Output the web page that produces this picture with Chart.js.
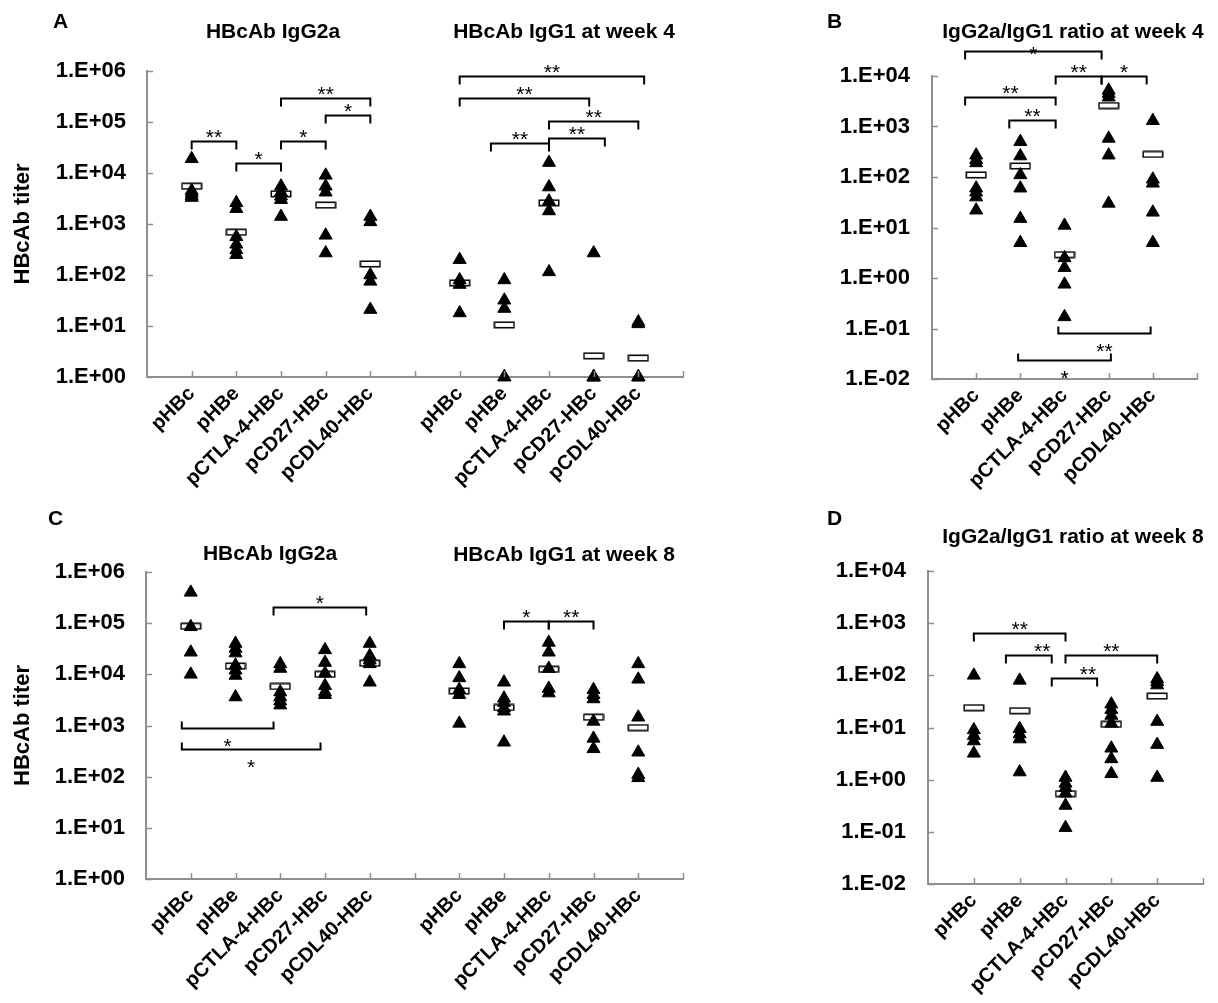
<!DOCTYPE html>
<html lang="en">
<head>
<meta charset="UTF-8" />
<title>HBcAb titers</title>
<script src="https://cdn.jsdelivr.net/npm/chart.js"></script>
<style>
  html, body { margin: 0; background: #fff; }
  body { width: 1218px; height: 1003px; position: relative; overflow: hidden;
         font-family: 'Liberation Sans', Arial, sans-serif; color: #000; }
  canvas { position: absolute; }
  .t { position: absolute; z-index: 2; font-weight: bold; font-size: 21px; line-height: 1;
       white-space: pre; transform: translate(-50%, -50%); }
  .p { position: absolute; z-index: 2; font-weight: bold; font-size: 21px; line-height: 1;
       transform: translate(0, -50%); }
</style>
</head>
<body>
<div class="p" style="left:53px;top:20px">A</div>
<div class="t" style="left:273px;top:30px">HBcAb IgG2a</div>
<div class="t" style="left:564px;top:30px">HBcAb IgG1 at week 4</div>
<div class="p" style="left:827px;top:20px">B</div>
<div class="t" style="left:1073px;top:30px">IgG2a/IgG1 ratio at week 4</div>
<div class="p" style="left:48px;top:517px">C</div>
<div class="t" style="left:270px;top:552px">HBcAb IgG2a</div>
<div class="t" style="left:564px;top:553px">HBcAb IgG1 at week 8</div>
<div class="p" style="left:827px;top:517px">D</div>
<div class="t" style="left:1073px;top:535px">IgG2a/IgG1 ratio at week 8</div>

<canvas id="chartA" width="720" height="500" style="left:0;top:0"></canvas>
<canvas id="chartB" width="398" height="500" style="left:820px;top:0"></canvas>
<canvas id="chartC" width="720" height="503" style="left:0;top:500px"></canvas>
<canvas id="chartD" width="398" height="503" style="left:820px;top:500px"></canvas>

<script>
  const categories = ['pHBc', 'pHBe', 'pCTLA-4-HBc', 'pCD27-HBc', 'pCDL40-HBc'];
  const yTicksTiter = ['1.E+00', '1.E+01', '1.E+02', '1.E+03', '1.E+04', '1.E+05', '1.E+06'];
  const yTicksRatio = ['1.E-02', '1.E-01', '1.E+00', '1.E+01', '1.E+02', '1.E+03', '1.E+04'];

  // week 4, one inner array per group (same order as categories)
  const w4IgG2a = [[19000, 4500, 4000, 3600, 3300], [2600, 2000, 560, 400, 310, 250],
                   [5500, 4200, 3500, 3000, 1400], [9000, 5500, 4200, 600, 270], [1400, 1100, 100, 75, 21]];
  const w4IgG2aMean = [5500, 690, 3900, 2350, 165];
  const w4IgG1 = [[200, 80, 65, 18], [80, 32, 22, 1, 1], [16000, 5300, 2800, 1800, 115],
                  [270, 1, 1, 1, 1], [12, 11, 1, 1, 1]];
  const w4IgG1Mean = [70, 10.5, 2600, 2.6, 2.35];
  const w4Ratio = [[270, 220, 190, 60, 50, 40, 22], [500, 260, 110, 60, 15, 5], [11, 2.5, 1.6, 0.75, 0.17],
                   [5200, 4500, 3800, 580, 270, 30], [1300, 90, 75, 20, 5]];
  const w4RatioMean = [110, 165, 2.9, 2600, 280];

  // week 8
  const w8IgG2a = [[400000, 85000, 27000, 10000], [40000, 32000, 26000, 15000, 12000, 9500, 3600],
                   [16000, 13000, 4500, 3600, 3000, 2500], [30000, 17000, 10500, 6000, 4500, 4000],
                   [40000, 23000, 19000, 16000, 7000]];
  const w8IgG2aMean = [87000, 14500, 5800, 10000, 16500];
  const w8IgG1 = [[16000, 8500, 5000, 4000, 1100], [7000, 3400, 2800, 2200, 1900, 470],
                  [42000, 27000, 13000, 5300, 4300], [5000, 4000, 3300, 1200, 560, 350],
                  [16000, 8000, 1450, 300, 110, 95]];
  const w8IgG1Mean = [4700, 2250, 12500, 1450, 910];
  const w8Ratio = [[100, 9, 7, 5.5, 3.2], [80, 9.5, 7.5, 6, 1.4], [1.1, 0.85, 0.7, 0.55, 0.32, 0.12],
                   [28, 22, 17, 12, 4, 2.5, 1.3], [85, 75, 65, 13, 4.7, 1.1]];
  const w8RatioMean = [24, 21, 0.54, 11.5, 40];

  // significance brackets: x in slot units, y in data units
  const sigA = [
    { x1: 1, x2: 2, y: 4.3e4, t: '**' }, { x1: 2, x2: 3, y: 1.6e4, t: '*' },
    { x1: 3, x2: 4, y: 4.3e4, t: '*' }, { x1: 3, x2: 5, y: 3.0e5, t: '**' },
    { x1: 4, x2: 5, y: 1.4e5, t: '*' },
    { x1: 7, x2: 11.13, y: 8e5, t: '**' }, { x1: 7, x2: 9.9, y: 3e5, t: '**' },
    { x1: 9, x2: 11, y: 1.05e5, t: '**' }, { x1: 9, x2: 10.25, y: 4.9e4, t: '**' },
    { x1: 7.7, x2: 9, y: 3.9e4, t: '**' }
  ];
  const sigB = [
    { x1: 0.75, x2: 3.84, y: 3.16e4, t: '*', place: 'tight' },
    { x1: 2.8, x2: 3.84, y: 1e4, t: '**' }, { x1: 3.84, x2: 4.86, y: 1e4, t: '*' },
    { x1: 0.75, x2: 2.8, y: 3800, t: '**' }, { x1: 1.75, x2: 2.8, y: 1350, t: '**' },
    { x1: 2.86, x2: 4.95, y: 0.081, t: '**', place: 'below' },
    { x1: 1.95, x2: 4.05, y: 0.024, t: '*', place: 'below' }
  ];
  const sigC = [
    { x1: 2.85, x2: 4.92, y: 2.1e5, t: '*' },
    { x1: 0.8, x2: 2.85, y: 900, t: '*', place: 'below' },
    { x1: 0.8, x2: 3.9, y: 350, t: '*', place: 'below' },
    { x1: 8, x2: 9, y: 1.1e5, t: '*' }, { x1: 9, x2: 10, y: 1.1e5, t: '**' }
  ];
  const sigD = [
    { x1: 1, x2: 3, y: 650, t: '**' },
    { x1: 1.7, x2: 2.7, y: 250, t: '**', tx: 2.49 },
    { x1: 3, x2: 5, y: 240, t: '**' },
    { x1: 2.7, x2: 3.69, y: 87, t: '**', tx: 3.49 }
  ];

  const AXIS = '#8f8f8f';
  const FONT = "'Liberation Sans', Arial, sans-serif";
  Chart.defaults.font.family = FONT;
  Chart.defaults.color = '#000';

  // white bar with black outline used for the group mean
  function meanMarker() {
    const c = document.createElement('canvas');
    c.width = 22; c.height = 8;
    const g = c.getContext('2d');
    g.fillStyle = '#fff';
    g.fillRect(1, 1, 20, 6);
    g.strokeStyle = '#000';
    g.lineWidth = 1.5;
    g.strokeRect(1.25, 1.25, 19.5, 5.5);
    return c;
  }
  const BAR = meanMarker();

  const points = (groups, start) => groups.flatMap((g, i) => g.map(v => ({ x: start + i, y: v })));
  const meanPts = (arr, start) => arr.map((v, i) => ({ x: start + i, y: v }));

  function sigPlugin(list) {
    return {
      id: 'sig',
      afterDraw(chart) {
        const { ctx, chartArea: a } = chart;
        const x = chart.scales.x, y = chart.scales.y;
        ctx.save();
        // short tick marks pointing into the plot
        ctx.strokeStyle = AXIS;
        ctx.lineWidth = 1.5;
        ctx.beginPath();
        x.ticks.forEach(t => {
          if (t.value <= 0) return;
          const p = Math.round(x.getPixelForValue(t.value)) + 0.5;
          ctx.moveTo(p, a.bottom); ctx.lineTo(p, a.bottom - 6);
        });
        y.ticks.forEach(t => {
          const p = Math.round(y.getPixelForValue(t.value)) + 0.5;
          ctx.moveTo(a.left, p); ctx.lineTo(a.left + 6, p);
        });
        ctx.stroke();

        ctx.strokeStyle = '#000';
        ctx.fillStyle = '#000';
        ctx.lineWidth = 2;
        ctx.font = '21px ' + FONT;
        ctx.textAlign = 'center';
        ctx.textBaseline = 'alphabetic';
        list.forEach(b => {
          const x1 = x.getPixelForValue(b.x1), x2 = x.getPixelForValue(b.x2);
          const py = Math.round(y.getPixelForValue(b.y)) + 0.5;
          const d = b.place === 'below' ? -7 : 8;
          ctx.beginPath();
          ctx.moveTo(x1, py + d); ctx.lineTo(x1, py); ctx.lineTo(x2, py); ctx.lineTo(x2, py + d);
          ctx.stroke();
          const tx = x.getPixelForValue(b.tx ?? (b.x1 + b.x2) / 2);
          const ty = b.place === 'below' ? py + 24 : b.place === 'tight' ? py + 9 : py + 2;
          ctx.fillText(b.t, tx, ty);
        });
        ctx.restore();
      }
    };
  }

  function makeChart(id, o) {
    return new Chart(document.getElementById(id), {
      type: 'scatter',
      data: {
        datasets: [
          { data: o.pts, pointStyle: 'triangle', radius: 7.5, backgroundColor: '#000',
            borderColor: '#000', borderWidth: 1, clip: false },
          { data: o.mean, pointStyle: BAR, radius: 10, clip: false }
        ]
      },
      options: {
        responsive: false,
        animation: false,
        events: [],
        layout: { padding: o.pad },
        plugins: { legend: { display: false }, tooltip: { enabled: false } },
        scales: {
          x: {
            type: 'linear', min: 0, max: o.slots.length - 1,
            grid: { display: false, drawTicks: false },
            border: { display: true, color: AXIS, width: 2 },
            afterBuildTicks: s => { s.ticks = o.slots.map((_, i) => ({ value: i })); },
            afterFit: s => { s.height = o.xh; s.paddingLeft = 0; s.paddingRight = 0; },
            ticks: {
              autoSkip: false, minRotation: 45, maxRotation: 45, padding: 5,
              font: { size: 20, weight: 'bold' }, color: '#000',
              callback: (v, i) => o.slots[i]
            }
          },
          y: {
            type: 'logarithmic',
            min: Number(o.yLabels[0]), max: Number(o.yLabels[o.yLabels.length - 1]),
            grid: { display: false, drawTicks: false },
            border: { display: true, color: AXIS, width: 2 },
            afterBuildTicks: s => { s.ticks = o.yLabels.map(l => ({ value: Number(l) })); },
            afterFit: s => { s.width = o.yw; s.paddingTop = 0; s.paddingBottom = 0; },
            ticks: { padding: o.yPad, font: { size: 22, weight: 'bold' }, color: '#000',
                     callback: (v, i) => o.yLabels[i] },
            title: { display: !!o.yTitle, text: o.yTitle || '', color: '#000',
                     font: { size: 22, weight: 'bold' }, padding: { top: 6, bottom: 0 } }
          }
        }
      },
      plugins: [sigPlugin(o.sig)]
    });
  }

  const twoGroupSlots = ['', ...categories, '', ...categories, ''];
  const oneGroupSlots = ['', ...categories, ''];

  makeChart('chartA', {
    pts: points(w4IgG2a, 1).concat(points(w4IgG1, 7)),
    mean: meanPts(w4IgG2aMean, 1).concat(meanPts(w4IgG1Mean, 7)),
    slots: twoGroupSlots, yLabels: yTicksTiter, yTitle: 'HBcAb titer', sig: sigA,
    pad: { left: 4, top: 71, right: 37, bottom: 3 }, yw: 143, xh: 120, yPad: 21
  });
  makeChart('chartB', {
    pts: points(w4Ratio, 1), mean: meanPts(w4RatioMean, 1),
    slots: oneGroupSlots, yLabels: yTicksRatio, sig: sigB,
    pad: { left: 0, top: 76, right: 21, bottom: 3 }, yw: 112, xh: 118, yPad: 22
  });
  makeChart('chartC', {
    pts: points(w8IgG2a, 1).concat(points(w8IgG1, 7)),
    mean: meanPts(w8IgG2aMean, 1).concat(meanPts(w8IgG1Mean, 7)),
    slots: twoGroupSlots, yLabels: yTicksTiter, yTitle: 'HBcAb titer', sig: sigC,
    pad: { left: 4, top: 72, right: 37, bottom: 3 }, yw: 142, xh: 121, yPad: 21
  });
  makeChart('chartD', {
    pts: points(w8Ratio, 1), mean: meanPts(w8RatioMean, 1),
    slots: oneGroupSlots, yLabels: yTicksRatio, sig: sigD,
    pad: { left: 0, top: 71, right: 15, bottom: 3 }, yw: 108, xh: 116, yPad: 22
  });
</script>
</body>
</html>
